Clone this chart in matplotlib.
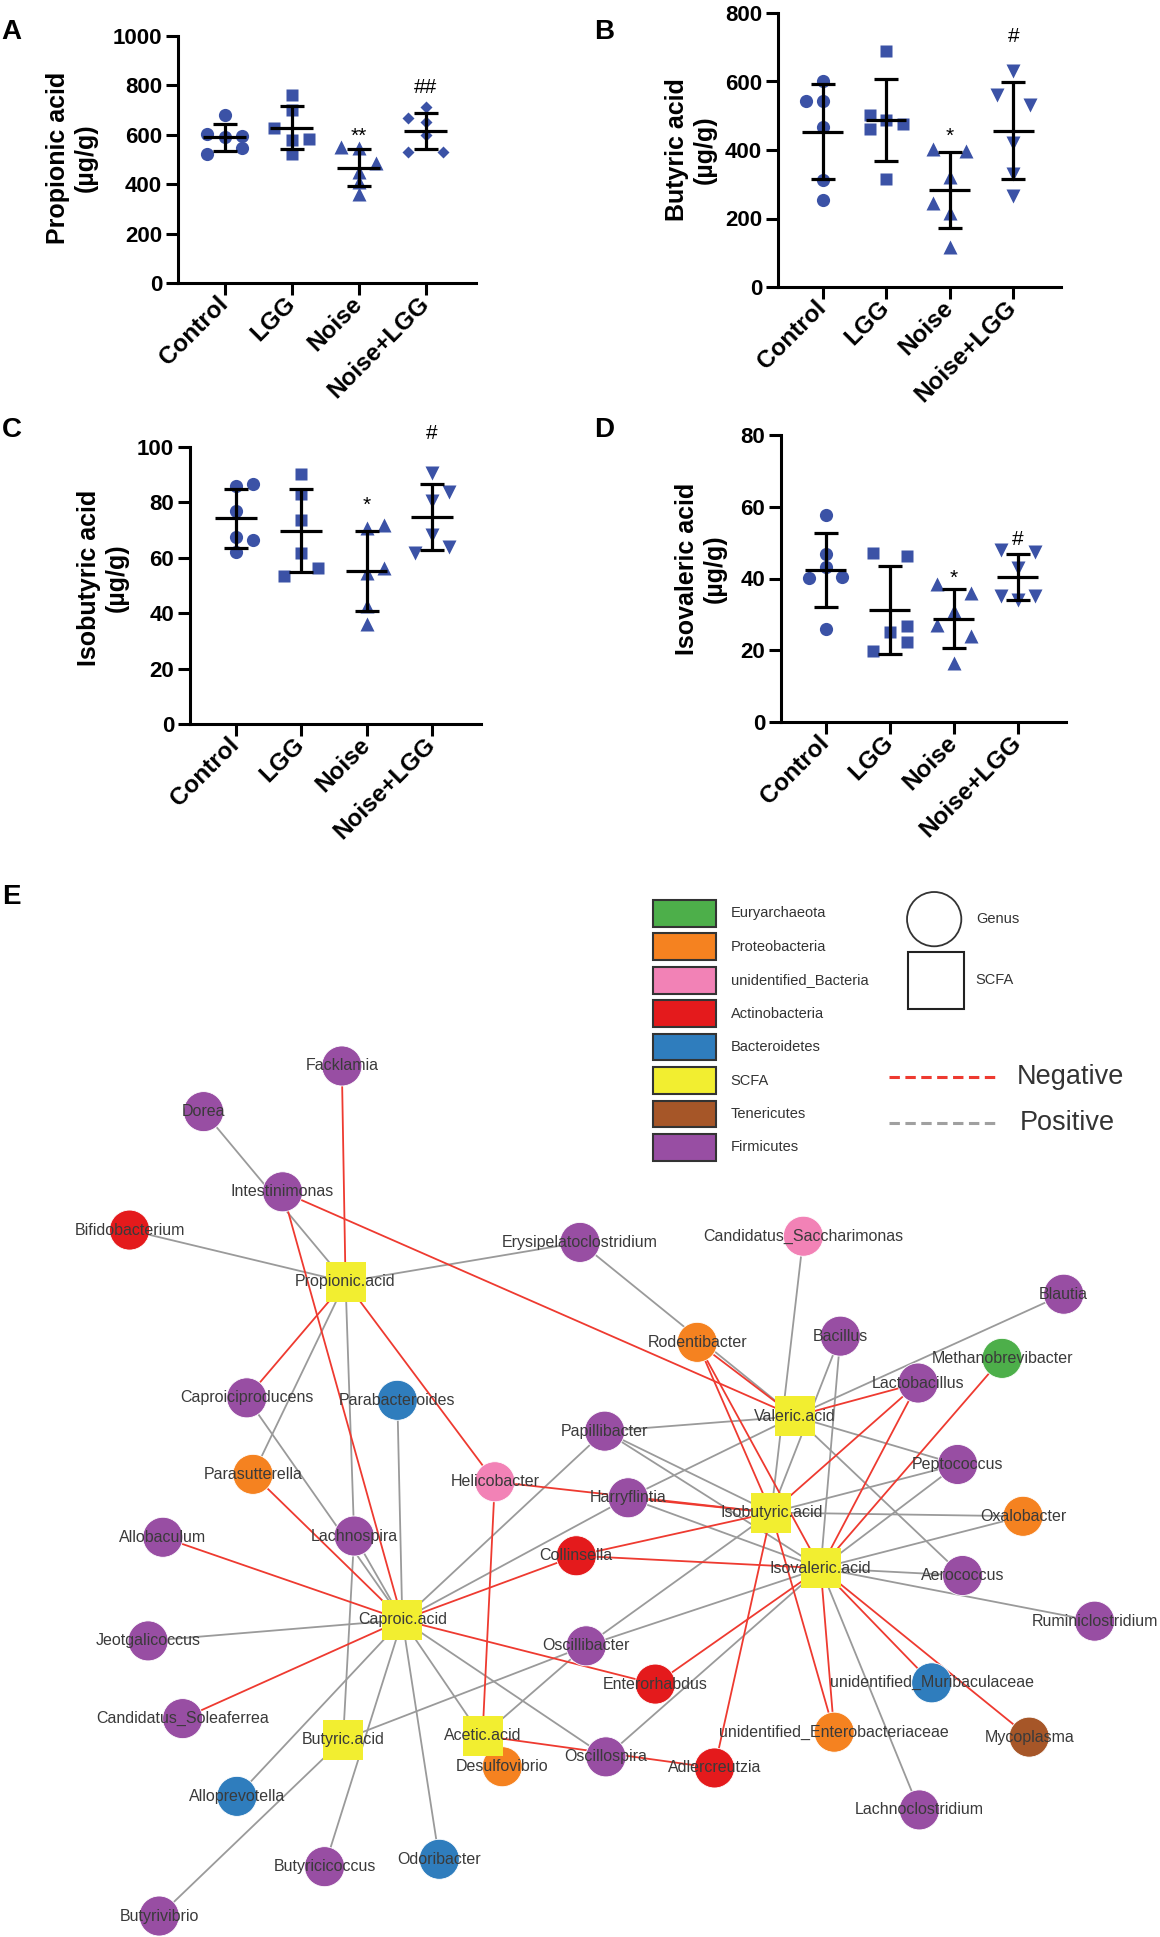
import numpy as np
import matplotlib
matplotlib.use('Agg')
import matplotlib.pyplot as plt
from matplotlib.patches import Rectangle, Circle

plt.rcParams['font.family'] = ['Liberation Sans', 'DejaVu Sans']

W, H = 1160, 1937

groups = ['Control', 'LGG', 'Noise', 'Noise+LGG']

# SCFA contents (ug/g), six mice per group
propionic = [[680, 592, 603, 595, 524, 547],
             [761, 700, 628, 585, 578, 524],
             [551, 545, 486, 450, 409, 362],
             [711, 666, 653, 599, 531, 531]]
butyric = [[602, 543, 543, 468, 313, 254],
           [689, 502, 487, 475, 460, 315],
           [402, 398, 320, 245, 215, 118],
           [630, 560, 530, 420, 330, 265]]
isobutyric = [[86.0, 86.8, 77.0, 67.5, 66.3, 62.1],
              [90.4, 83.0, 73.7, 61.9, 56.4, 53.6],
              [70.8, 71.7, 54.4, 56.4, 42.5, 36.2],
              [90.7, 83.6, 80.6, 68.1, 61.8, 63.9]]
isovaleric = [[57.6, 46.7, 43.1, 40.2, 40.5, 25.8],
              [47.2, 46.3, 25.1, 26.7, 22.3, 19.8],
              [38.5, 36.0, 31.0, 27.0, 24.0, 16.5],
              [48.0, 47.5, 43.0, 35.0, 34.0, 35.0]]

# which side of the column each dot sits on (-1 left, 0 middle, 1 right)
prop_slots = [[0, 0, -1, 1, -1, 1], [0, 0, -1, 1, 0, 0], [-1, 0, 1, 0, 0, 0], [0, -1, 0, 0, -1, 1]]
buty_slots = [[0, -1, 0, 0, 0, 0], [0, -1, 0, 1, -1, 0], [-1, 1, 0, -1, 0, 0], [0, -1, 1, 0, 0, 0]]
isob_slots = [[0, 1, 0, 0, 1, 0], [0, 0, 0, 0, 1, -1], [0, 1, 0, 1, 0, 0], [0, 1, 0, 0, -1, 1]]
isov_slots = [[0, 0, 0, -1, 1, 0], [-1, 1, 0, 1, 1, -1], [-1, 1, 0, -1, 1, 0], [-1, 1, 0, -1, 0, 1]]

# significance marks: (group, text, y)
prop_sig = [(2, '**', 595), (3, '##', 790)]
buty_sig = [(2, '*', 440), (3, '#', 730)]
isob_sig = [(2, '*', 79), (3, '#', 105)]
isov_sig = [(2, '*', 40), (3, '#', 51)]

blue = '#3b52a6'
markers = ['o', 's', '^', 'v']
msizes = [9.5, 8.5, 9.5, 9.5]
prop_markers = ['o', 's', '^', 'D']


def px_axes(fig, left, top, right, bottom):
    return fig.add_axes([left / W, 1 - bottom / H, (right - left) / W, (bottom - top) / H])


def dot_panel(ax, data, slots, mks, ymax, ystep, ylabel, sig, lab_x, lab_y):
    for i, (vals, sl) in enumerate(zip(data, slots)):
        vals = np.array(vals, dtype=float)
        ms = 6.3 if mks[i] == 'D' else msizes[i]
        ax.plot(i + np.array(sl) * 0.26, vals, ls='none', marker=mks[i], ms=ms,
                color=blue, mec='none', clip_on=False, zorder=2)
        m, sd = vals.mean(), vals.std(ddof=1)
        ax.hlines(m, i - 0.32, i + 0.32, color='k', lw=2.3, zorder=3)
        ax.errorbar(i, m, yerr=sd, fmt='none', ecolor='k', elinewidth=2.3,
                    capsize=8.3, capthick=2.3, zorder=3)
    for g, txt, y in sig:
        ax.text(g, y, txt, ha='center', va='center', fontsize=15, clip_on=False)
    ax.set_xlim(-0.7, 3.75)
    ax.set_ylim(0, ymax)
    ax.set_yticks(np.arange(0, ymax + 1, ystep))
    ax.set_xticks(range(4))
    ax.set_xticklabels(groups, rotation=45, ha='right', va='center', rotation_mode='anchor',
                       fontsize=17.5, fontweight='bold')
    for t in ax.get_yticklabels():
        t.set_fontweight('bold')
        t.set_fontsize(16)
    ax.spines[['top', 'right']].set_visible(False)
    for s in ['left', 'bottom']:
        ax.spines[s].set_linewidth(2.2)
    ax.tick_params(width=2.2, length=8.5, direction='out')
    ax.tick_params(axis='y', pad=3)
    ax.tick_params(axis='x', pad=4)
    ax.set_ylabel(ylabel, fontsize=18, fontweight='bold', va='center')
    ax.yaxis.set_label_coords(lab_x, lab_y)
    ax.patch.set_visible(False)


# ---------------- network (panel E) ----------------
node_names = ['Facklamia', 'Dorea', 'Intestinimonas', 'Bifidobacterium', 'Erysipelatoclostridium',
              'Candidatus_Saccharimonas', 'Blautia', 'Rodentibacter', 'Bacillus', 'Methanobrevibacter',
              'Lactobacillus', 'Caproiciproducens', 'Parabacteroides', 'Papillibacter', 'Peptococcus',
              'Parasutterella', 'Helicobacter', 'Harryflintia', 'Oxalobacter', 'Allobaculum',
              'Lachnospira', 'Collinsella', 'Aerococcus', 'Ruminiclostridium', 'Jeotgalicoccus',
              'Oscillibacter', 'Enterorhabdus', 'unidentified_Muribaculaceae', 'Candidatus_Soleaferrea',
              'Desulfovibrio', 'Oscillospira', 'Adlercreutzia', 'unidentified_Enterobacteriaceae',
              'Mycoplasma', 'Alloprevotella', 'Lachnoclostridium', 'Odoribacter', 'Butyricicoccus',
              'Butyrivibrio',
              'Propionic.acid', 'Valeric.acid', 'Isobutyric.acid', 'Isovaleric.acid', 'Caproic.acid',
              'Butyric.acid', 'Acetic.acid']
node_phylum = ['Firmicutes', 'Firmicutes', 'Firmicutes', 'Actinobacteria', 'Firmicutes',
               'unidentified_Bacteria', 'Firmicutes', 'Proteobacteria', 'Firmicutes', 'Euryarchaeota',
               'Firmicutes', 'Firmicutes', 'Bacteroidetes', 'Firmicutes', 'Firmicutes',
               'Proteobacteria', 'unidentified_Bacteria', 'Firmicutes', 'Proteobacteria', 'Firmicutes',
               'Firmicutes', 'Actinobacteria', 'Firmicutes', 'Firmicutes', 'Firmicutes',
               'Firmicutes', 'Actinobacteria', 'Bacteroidetes', 'Firmicutes',
               'Proteobacteria', 'Firmicutes', 'Actinobacteria', 'Proteobacteria',
               'Tenericutes', 'Bacteroidetes', 'Firmicutes', 'Bacteroidetes', 'Firmicutes',
               'Firmicutes',
               'SCFA', 'SCFA', 'SCFA', 'SCFA', 'SCFA', 'SCFA', 'SCFA']
node_x = [277, 165, 229, 105, 470, 651, 862, 565, 681, 812,
          744, 200, 322, 490, 776, 205, 401, 509, 829, 132,
          287, 467, 780, 887, 120, 475, 531, 755, 148, 407,
          491, 579, 676, 834, 192, 745, 356, 263, 129,
          280, 644, 625, 665, 326, 278, 391]
node_y = [864, 901, 966, 997, 1007, 1002, 1049, 1088, 1083, 1101,
          1121, 1133, 1135, 1160, 1187, 1195, 1201, 1214, 1229, 1246,
          1245, 1261, 1277, 1314, 1330, 1334, 1365, 1364, 1393, 1432,
          1424, 1433, 1404, 1408, 1456, 1467, 1507, 1513, 1553,
          1039, 1148, 1226, 1271, 1313, 1410, 1407]

neg_edges = [('Facklamia', 'Propionic.acid'), ('Caproiciproducens', 'Propionic.acid'),
             ('Helicobacter', 'Propionic.acid'), ('Intestinimonas', 'Caproic.acid'),
             ('Intestinimonas', 'Valeric.acid'), ('Parasutterella', 'Caproic.acid'),
             ('Allobaculum', 'Caproic.acid'), ('Candidatus_Soleaferrea', 'Caproic.acid'),
             ('Collinsella', 'Caproic.acid'), ('Enterorhabdus', 'Caproic.acid'),
             ('Helicobacter', 'Acetic.acid'), ('Helicobacter', 'Isobutyric.acid'),
             ('Harryflintia', 'Isobutyric.acid'), ('Collinsella', 'Isobutyric.acid'),
             ('Collinsella', 'Isovaleric.acid'), ('Enterorhabdus', 'Isovaleric.acid'),
             ('Adlercreutzia', 'Acetic.acid'), ('Adlercreutzia', 'Isobutyric.acid'),
             ('Rodentibacter', 'Valeric.acid'), ('Rodentibacter', 'Isobutyric.acid'),
             ('Rodentibacter', 'Isovaleric.acid'), ('Lactobacillus', 'Valeric.acid'),
             ('Lactobacillus', 'Isobutyric.acid'), ('Lactobacillus', 'Isovaleric.acid'),
             ('Methanobrevibacter', 'Isovaleric.acid'), ('unidentified_Muribaculaceae', 'Isovaleric.acid'),
             ('Mycoplasma', 'Isovaleric.acid'), ('unidentified_Enterobacteriaceae', 'Isobutyric.acid'),
             ('unidentified_Enterobacteriaceae', 'Isovaleric.acid')]
pos_edges = [('Bifidobacterium', 'Propionic.acid'), ('Dorea', 'Propionic.acid'),
             ('Erysipelatoclostridium', 'Propionic.acid'), ('Erysipelatoclostridium', 'Valeric.acid'),
             ('Parasutterella', 'Propionic.acid'), ('Lachnospira', 'Propionic.acid'),
             ('Lachnospira', 'Caproic.acid'), ('Lachnospira', 'Butyric.acid'),
             ('Caproiciproducens', 'Caproic.acid'), ('Parabacteroides', 'Caproic.acid'),
             ('Jeotgalicoccus', 'Caproic.acid'), ('Alloprevotella', 'Caproic.acid'),
             ('Butyricicoccus', 'Caproic.acid'), ('Odoribacter', 'Caproic.acid'),
             ('Desulfovibrio', 'Caproic.acid'), ('Oscillospira', 'Caproic.acid'),
             ('Oscillospira', 'Isovaleric.acid'), ('Papillibacter', 'Caproic.acid'),
             ('Papillibacter', 'Valeric.acid'), ('Papillibacter', 'Isobutyric.acid'),
             ('Papillibacter', 'Isovaleric.acid'), ('Harryflintia', 'Caproic.acid'),
             ('Harryflintia', 'Valeric.acid'), ('Harryflintia', 'Isovaleric.acid'),
             ('Oscillibacter', 'Acetic.acid'), ('Oscillibacter', 'Isobutyric.acid'),
             ('Oscillibacter', 'Butyric.acid'), ('Oscillibacter', 'Isovaleric.acid'),
             ('Butyrivibrio', 'Butyric.acid'), ('Candidatus_Saccharimonas', 'Isobutyric.acid'),
             ('Bacillus', 'Isobutyric.acid'), ('Bacillus', 'Isovaleric.acid'),
             ('Blautia', 'Valeric.acid'), ('Peptococcus', 'Valeric.acid'),
             ('Peptococcus', 'Isobutyric.acid'), ('Peptococcus', 'Isovaleric.acid'),
             ('Aerococcus', 'Valeric.acid'), ('Aerococcus', 'Isovaleric.acid'),
             ('Oxalobacter', 'Isobutyric.acid'), ('Oxalobacter', 'Isovaleric.acid'),
             ('Ruminiclostridium', 'Isovaleric.acid'), ('Lachnoclostridium', 'Isovaleric.acid')]

legend_phyla = ['Euryarchaeota', 'Proteobacteria', 'unidentified_Bacteria', 'Actinobacteria',
                'Bacteroidetes', 'SCFA', 'Tenericutes', 'Firmicutes']
phylum_colors = {'Euryarchaeota': '#4daf4a', 'Proteobacteria': '#f58220',
                 'unidentified_Bacteria': '#f282b6', 'Actinobacteria': '#e41a1c',
                 'Bacteroidetes': '#2f7dbd', 'SCFA': '#f2ee30', 'Tenericutes': '#a65628',
                 'Firmicutes': '#984ea3'}

red_edge = '#ee3a30'
gray_edge = '#9a9a9a'

fig = plt.figure(figsize=(W / 100, H / 100), dpi=100)

net = fig.add_axes([0, 0, 1, 1])
net.set_xlim(0, 940)
net.set_ylim(1570, 0)
net.axis('off')

pos = {n: (x, y) for n, x, y in zip(node_names, node_x, node_y)}
for a, b in pos_edges:
    net.plot([pos[a][0], pos[b][0]], [pos[a][1], pos[b][1]], color=gray_edge, lw=1.3, zorder=1)
for a, b in neg_edges:
    net.plot([pos[a][0], pos[b][0]], [pos[a][1], pos[b][1]], color=red_edge, lw=1.3, zorder=1.5)

genus = [i for i, p in enumerate(node_phylum) if p != 'SCFA']
scfa = [i for i, p in enumerate(node_phylum) if p == 'SCFA']
net.scatter([node_x[i] for i in genus], [node_y[i] for i in genus], s=830, marker='o',
            c=[phylum_colors[node_phylum[i]] for i in genus], edgecolors='white', linewidths=0.6, zorder=3)
net.scatter([node_x[i] for i in scfa], [node_y[i] for i in scfa], s=830, marker='s',
            c=phylum_colors['SCFA'], edgecolors='none', zorder=4)
for n, x, y in zip(node_names, node_x, node_y):
    net.text(x, y, n, ha='center', va='center', fontsize=11.5, color='#3a3a3a', zorder=5)

# legend
for k, ph in enumerate(legend_phyla):
    yc = 740.3 + k * 27.1
    net.add_patch(Rectangle((529, yc - 10.8), 51, 21.6, fc=phylum_colors[ph], ec='#333333', lw=1.5, zorder=3))
    net.text(592, yc, ph, va='center', ha='left', fontsize=10.5, color='#333333')
net.add_patch(Circle((757, 745), 22, fill=False, ec='#333333', lw=1.3))
net.text(791, 745, 'Genus', va='center', fontsize=10.5, color='#333333')
net.add_patch(Rectangle((736, 772), 45, 46, fill=False, ec='#222222', lw=1.5))
net.text(790, 794, 'SCFA', va='center', fontsize=10.5, color='#333333')
net.plot([720, 810], [873, 873], color=red_edge, lw=2.2, ls=(0, (3.4, 1.8)))
net.text(824, 873, 'Negative', va='center', fontsize=19.5, color='#333333')
net.plot([720, 810], [910, 910], color='#a0a0a0', lw=2.2, ls=(0, (3.4, 1.8)))
net.text(826, 910, 'Positive', va='center', fontsize=19.5, color='#333333')

# ---------------- dot plots (A-D) ----------------
axA = px_axes(fig, 178, 36, 476, 283)
dot_panel(axA, propionic, prop_slots, prop_markers, 1000, 200, 'Propionic acid\n(\u00b5g/g)', prop_sig, -0.356, 0.506)
axB = px_axes(fig, 778, 13, 1061, 287)
dot_panel(axB, butyric, buty_slots, markers, 800, 200, 'Butyric acid\n(\u00b5g/g)', buty_sig, -0.307, 0.5)
axC = px_axes(fig, 190, 447, 481, 724)
dot_panel(axC, isobutyric, isob_slots, markers, 100, 20, 'Isobutyric acid\n(\u00b5g/g)', isob_sig, -0.30, 0.527)
axD = px_axes(fig, 781, 435, 1066, 722)
dot_panel(axD, isovaleric, isov_slots, markers, 80, 20, 'Isovaleric acid\n(\u00b5g/g)', isov_sig, -0.28, 0.533)

for lab, x, y in [('A', 1, 32), ('B', 594, 32), ('C', 2, 430), ('D', 594, 430), ('E', 2, 897)]:
    fig.text(x / W, 1 - y / H, lab, fontsize=20, fontweight='bold', ha='left', va='center')

fig.savefig('out.png', dpi=100)
